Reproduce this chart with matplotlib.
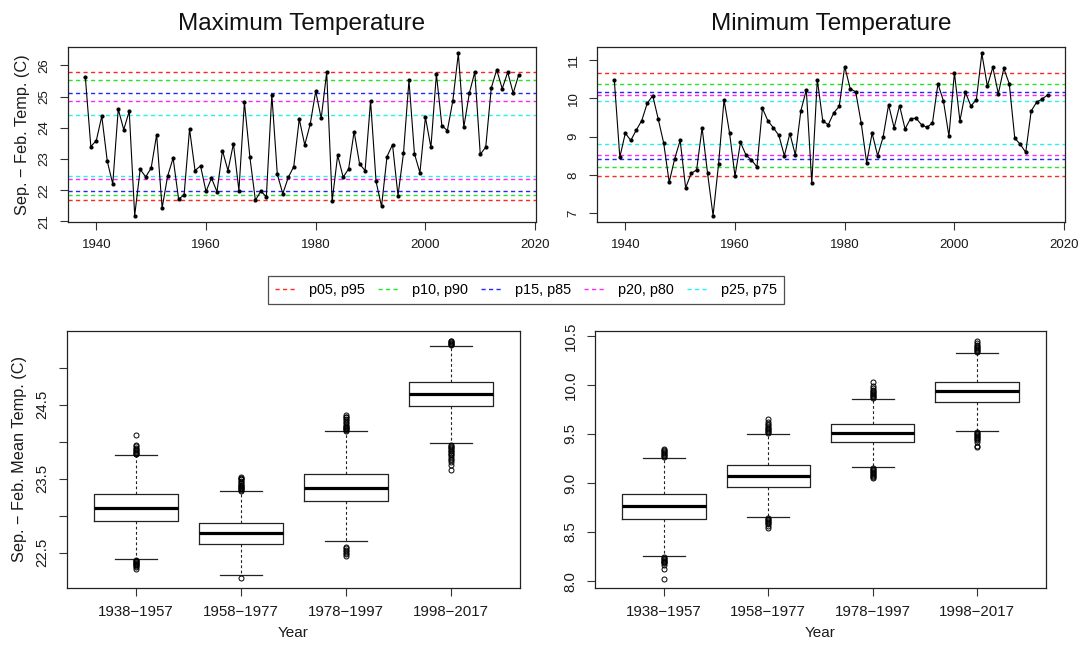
import numpy as np
import matplotlib
matplotlib.use('Agg')
import matplotlib.pyplot as plt
from matplotlib.lines import Line2D

plt.rcParams['font.family'] = ['Liberation Sans', 'DejaVu Sans']

years = np.arange(1938, 2018)

tmax = [25.62, 23.40, 23.59, 24.37, 22.93, 22.20, 24.60, 23.94, 24.53, 21.19,
        22.67, 22.43, 22.71, 23.78, 21.43, 22.45, 23.03, 21.72, 21.84, 23.96,
        22.63, 22.78, 21.96, 22.39, 21.95, 23.27, 22.63, 23.49, 21.99, 24.82,
        23.06, 21.68, 21.97, 21.79, 25.06, 22.51, 21.89, 22.41, 22.76, 24.28,
        23.45, 24.12, 25.17, 24.30, 25.78, 21.65, 23.12, 22.42, 22.68, 23.88,
        22.84, 22.63, 24.86, 22.28, 21.48, 23.08, 23.46, 21.83, 23.18, 25.52,
        23.17, 22.56, 24.34, 23.37, 25.72, 24.07, 23.91, 24.87, 26.38, 24.02,
        25.10, 25.79, 23.15, 23.38, 25.27, 25.86, 25.25, 25.78, 25.11, 25.69]

tmin = [10.47, 8.46, 9.09, 8.90, 9.17, 9.42, 9.87, 10.07, 9.46, 8.83,
        7.81, 8.42, 8.90, 7.66, 8.04, 8.13, 9.23, 8.04, 6.94, 8.28,
        9.96, 9.10, 7.97, 8.85, 8.52, 8.39, 8.21, 9.74, 9.41, 9.23,
        9.03, 8.50, 9.08, 8.52, 9.67, 10.22, 7.78, 10.49, 9.41, 9.31,
        9.62, 9.79, 10.83, 10.25, 10.17, 9.36, 8.32, 9.09, 8.50, 8.99,
        9.83, 9.23, 9.81, 9.20, 9.47, 9.48, 9.31, 9.24, 9.36, 10.38,
        9.93, 9.01, 10.67, 9.41, 10.16, 9.80, 9.96, 11.17, 10.32, 10.81,
        10.12, 10.78, 10.38, 8.96, 8.80, 8.59, 9.67, 9.90, 9.98, 10.09]

# percentile lines (low, high) for p05/p95 ... p25/p75
pct_labels = ['p05, p95', 'p10, p90', 'p15, p85', 'p20, p80', 'p25, p75']
pct_colors = ['#ff0000', '#00e000', '#0000ff', '#ff00ff', '#00f0f0']
tmax_pct = [(21.68, 25.78), (21.85, 25.53), (21.98, 25.13), (22.37, 24.87), (22.45, 24.40)]
tmin_pct = [(7.97, 10.67), (8.21, 10.37), (8.41, 10.17), (8.52, 10.09), (8.82, 9.94)]

# boxplot summaries for 20-year periods
periods = ['1938\u22121957', '1958\u22121977', '1978\u22121997', '1998\u22122017']
max_q1 = [22.93, 22.62, 23.20, 24.48]
max_med = [23.11, 22.76, 23.38, 24.65]
max_q3 = [23.29, 22.90, 23.57, 24.81]
max_lo = [22.41, 22.20, 22.65, 23.98]
max_hi = [23.82, 23.33, 24.14, 25.30]
max_fliers = [[24.09, 23.96, 23.94, 23.92, 23.90, 23.89, 23.87, 23.86, 23.85, 23.84, 23.83,
               22.40, 22.39, 22.38, 22.37, 22.36, 22.35, 22.34, 22.33, 22.32, 22.30, 22.28],
              [23.52, 23.51, 23.50, 23.49, 23.47, 23.45, 23.44, 23.42, 23.41, 23.40, 23.39,
               23.38, 23.37, 23.36, 23.35, 23.34, 22.15],
              [24.36, 24.34, 24.33, 24.31, 24.29, 24.27, 24.25, 24.23, 24.21, 24.20, 24.19,
               24.18, 24.17, 24.16, 24.15, 22.58, 22.56, 22.54, 22.52, 22.50, 22.48, 22.45],
              [25.37, 25.36, 25.35, 25.34, 25.33, 25.32, 25.31, 23.96, 23.94, 23.93, 23.91,
               23.90, 23.88, 23.87, 23.85, 23.84, 23.82, 23.80, 23.77, 23.75, 23.72, 23.69,
               23.62]]

min_q1 = [8.63, 8.96, 9.42, 9.83]
min_med = [8.77, 9.07, 9.51, 9.94]
min_q3 = [8.89, 9.18, 9.60, 10.03]
min_lo = [8.26, 8.65, 9.16, 9.53]
min_hi = [9.26, 9.50, 9.86, 10.33]
min_fliers = [[9.35, 9.34, 9.33, 9.32, 9.31, 9.30, 9.29, 9.28, 9.27, 8.25, 8.24, 8.23,
               8.22, 8.21, 8.20, 8.19, 8.18, 8.16, 8.12, 8.02],
              [9.65, 9.62, 9.60, 9.59, 9.57, 9.56, 9.55, 9.54, 9.53, 9.52, 9.51, 8.64,
               8.63, 8.62, 8.61, 8.60, 8.59, 8.58, 8.56, 8.54],
              [10.03, 9.99, 9.97, 9.95, 9.94, 9.93, 9.92, 9.91, 9.90, 9.89, 9.88, 9.87,
               9.15, 9.14, 9.13, 9.12, 9.11, 9.10, 9.09, 9.08, 9.07, 9.06, 9.05],
              [10.45, 10.43, 10.41, 10.40, 10.39, 10.38, 10.37, 10.36, 10.35, 10.34,
               9.52, 9.51, 9.50, 9.49, 9.48, 9.47, 9.46, 9.45, 9.44, 9.42, 9.38, 9.37]]

W, H = 1083, 648
fig = plt.figure(figsize=(W / 100, H / 100), dpi=100)


def px_axes(left, top, right, bottom):
    return fig.add_axes([left / W, 1 - bottom / H, (right - left) / W, (bottom - top) / H])


def style_axes(ax, tick_size):
    for s in ax.spines.values():
        s.set_linewidth(0.9)
        s.set_color('#222222')
    ax.tick_params(axis='both', length=5.5, width=0.8, color='#333333',
                   labelsize=tick_size, labelcolor='#1a1a1a')
    ax.tick_params(axis='y', pad=7)
    ax.tick_params(axis='x', pad=7)
    for lab in ax.get_yticklabels():
        lab.set_rotation(90)
        lab.set_va('center')


def ts_panel(ax, vals, pct, yticks, title):
    v = np.array(vals)
    lo, hi = v.min(), v.max()
    ax.set_xlim(1938 - 0.04 * 79, 2017 + 0.04 * 79)
    ax.set_ylim(lo - 0.04 * (hi - lo), hi + 0.04 * (hi - lo))
    for (a, b), c in zip(pct, pct_colors):
        for y in (a, b):
            ax.axhline(y, color=c, lw=1.0, alpha=0.85, dashes=(3.0, 2.4))
    ax.plot(years, v, color='black', lw=0.8, marker='o', ms=2.0)
    ax.set_xticks([1940, 1960, 1980, 2000, 2020])
    ax.set_yticks(yticks)
    ax.set_yticklabels([str(t) for t in yticks])
    style_axes(ax, 9.5)
    ax.set_title(title, fontsize=17.5, pad=12, color='#111111')


def box_panel(ax, q1, med, q3, lo, hi, fliers, ylim):
    stats = []
    for i in range(4):
        stats.append(dict(med=med[i], q1=q1[i], q3=q3[i], whislo=lo[i], whishi=hi[i],
                          fliers=fliers[i]))
    ax.bxp(stats, positions=[1, 2, 3, 4], widths=0.8, capwidths=0.4, showfliers=True,
           boxprops=dict(color='#222222', lw=0.9),
           medianprops=dict(color='black', lw=2.3, solid_capstyle='butt'),
           whiskerprops=dict(color='#222222', lw=0.8, dashes=(2.5, 2.2)),
           capprops=dict(color='#222222', lw=0.9),
           flierprops=dict(marker='o', ms=3.6, mfc='none', mec='black', mew=0.7))
    ax.set_xlim(0.34, 4.66)
    ax.set_ylim(*ylim)
    ax.set_xticks([1, 2, 3, 4])
    ax.set_xticklabels(periods)
    ax.set_xlabel('Year', fontsize=11, labelpad=5, color='#1a1a1a')


ax1 = px_axes(68, 47, 536, 222)
ts_panel(ax1, tmax, tmax_pct, [21, 22, 23, 24, 25, 26], 'Maximum Temperature')
ax1.set_ylabel('Sep. \u2212 Feb. Temp. (C)', fontsize=11.7, labelpad=6, color='#1a1a1a')

ax2 = px_axes(597, 47, 1065, 222)
ts_panel(ax2, tmin, tmin_pct, [7, 8, 9, 10, 11], 'Minimum Temperature')

ax3 = px_axes(67, 331, 520, 588)
box_panel(ax3, max_q1, max_med, max_q3, max_lo, max_hi, max_fliers, (22.02, 25.5))
ax3.set_yticks([22.5, 23.0, 23.5, 24.0, 24.5, 25.0])
ax3.set_yticklabels(['22.5', '', '23.5', '', '24.5', ''])
style_axes(ax3, 10.8)
ax3.set_ylabel('Sep. \u2212 Feb. Mean Temp. (C)', fontsize=11.7, labelpad=6, color='#1a1a1a')

ax4 = px_axes(595, 331, 1046, 588)
box_panel(ax4, min_q1, min_med, min_q3, min_lo, min_hi, min_fliers, (7.93, 10.55))
ax4.set_yticks([8.0, 8.5, 9.0, 9.5, 10.0, 10.5])
ax4.set_yticklabels(['8.0', '8.5', '9.0', '9.5', '10.0', '10.5'])
style_axes(ax4, 10.8)

handles = [Line2D([], [], color=c, lw=1.0, alpha=0.85, dashes=(3.0, 2.4)) for c in pct_colors]
leg = fig.legend(handles, pct_labels, ncol=5, loc='center', bbox_to_anchor=(526 / W, 1 - 290 / H),
                 fontsize=10.4, frameon=True, fancybox=False, handlelength=1.45,
                 handletextpad=0.9, columnspacing=0.9, borderpad=0.5)
leg.get_frame().set_edgecolor('#222222')
leg.get_frame().set_linewidth(0.9)

fig.savefig('out.png', dpi=100)
